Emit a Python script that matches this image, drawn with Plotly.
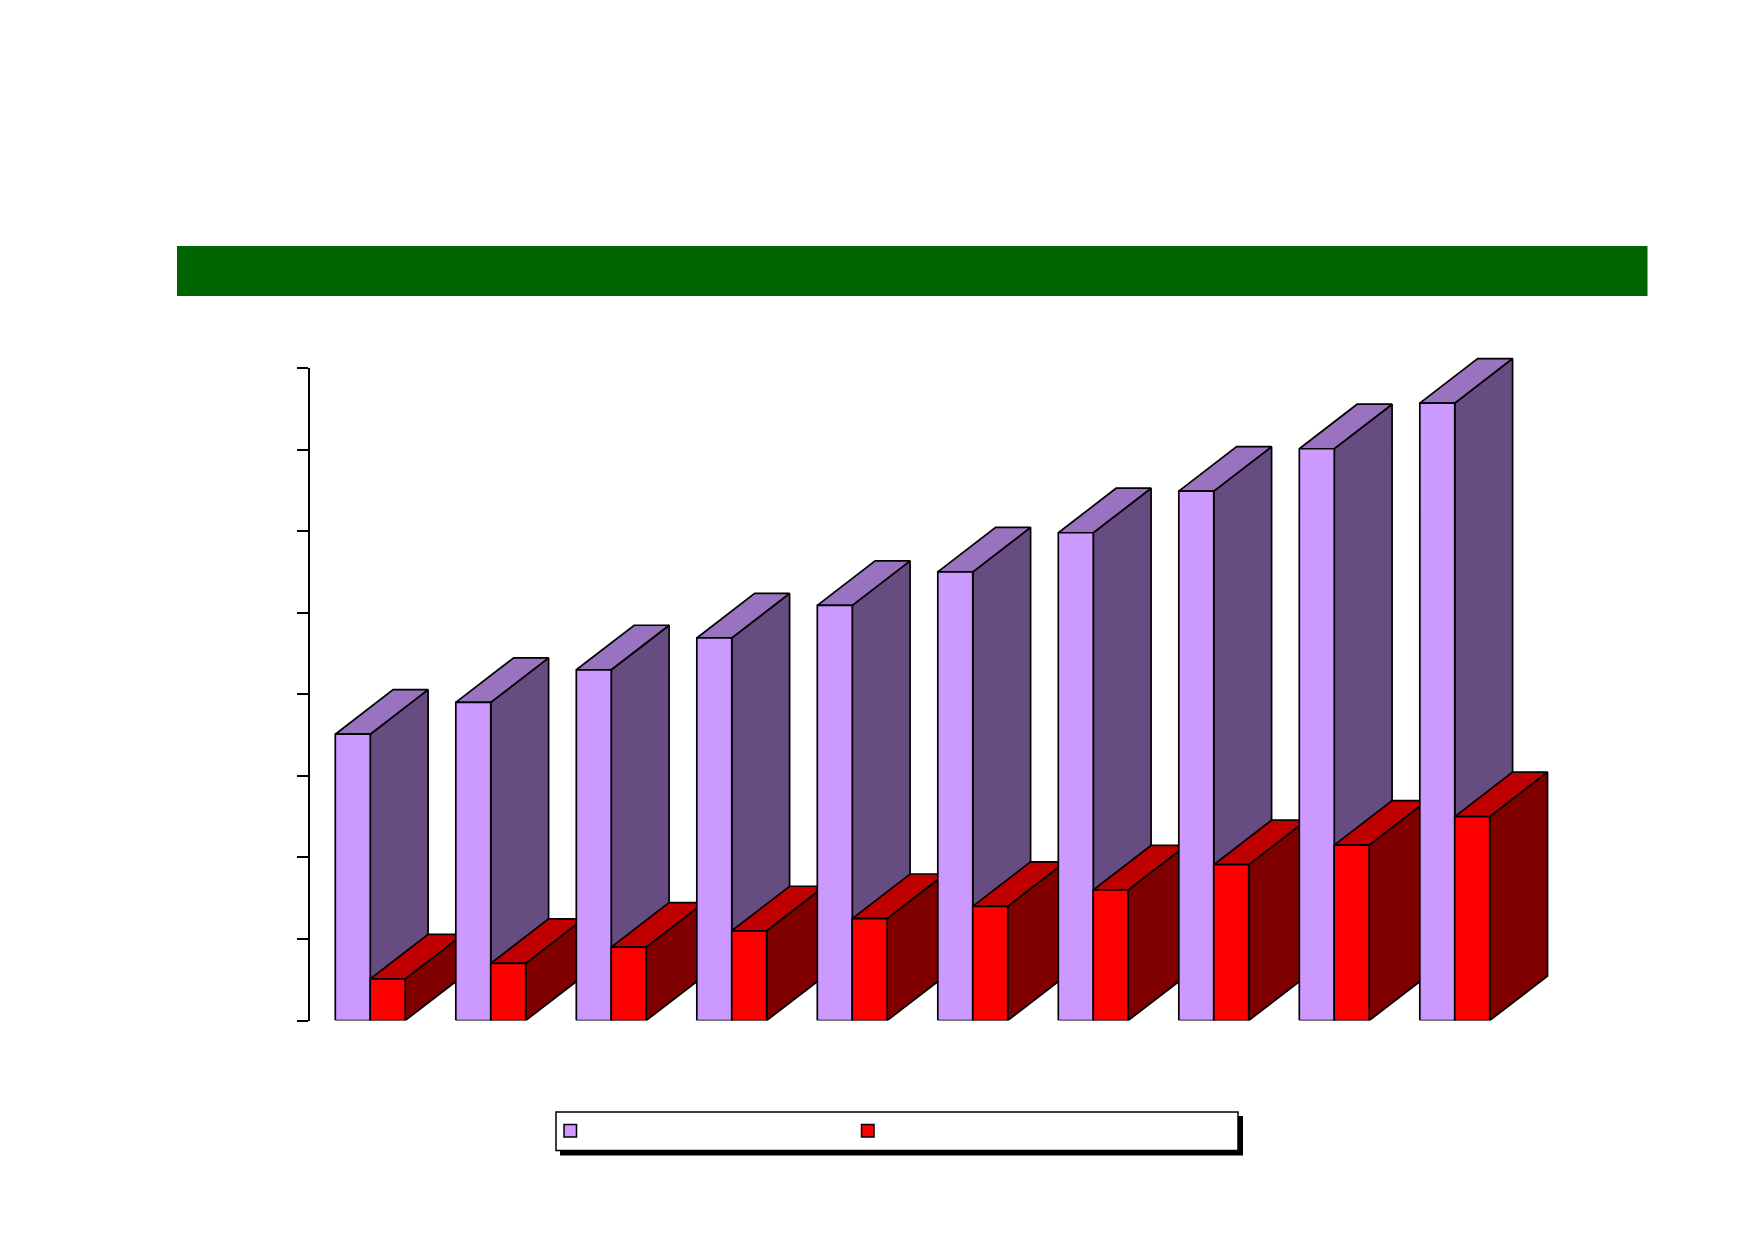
import plotly.graph_objects as go

# page body has an 8px margin, so the figure is shrunk and everything shifted by it
PAGE = 8
W = 1754 - 2 * PAGE
H = 1239 - 2 * PAGE

categories = [0, 1, 2, 3, 4, 5, 6, 7, 8, 9]
purple_vals = [3.51, 3.90, 4.30, 4.69, 5.09, 5.50, 5.98, 6.49, 7.01, 7.57]
red_vals = [0.51, 0.70, 0.90, 1.10, 1.25, 1.40, 1.60, 1.91, 2.15, 2.50]
y_ticks = [0, 1, 2, 3, 4, 5, 6, 7, 8]

purple = {"front": "#CC99FF", "top": "#9973BF", "side": "#664C80"}
red = {"front": "#FF0000", "top": "#BF0000", "side": "#800000"}

bar_w = 0.29
depth_x = 0.48
depth_y = 0.546

# plot area on the page, in pixels
LEFT, RIGHT, TOP, BASE = 310, 1515, 368, 1020.5
# the 3D faces stick out of it, so they get a larger subplot on the same scale
RIGHT_BIG, TOP_BIG = 1600, 330
x_scale = (RIGHT - LEFT) / 10
y_scale = (BASE - TOP) / 8


def fx(px):
    return (px - PAGE) / W


def fy(py):
    return 1 - (py - PAGE) / H


fig = go.Figure()


def add_face(xs, ys, color):
    fig.add_trace(go.Scatter(
        x=xs, y=ys, mode="lines", fill="toself", fillcolor=color,
        line=dict(color="black", width=1.7), cliponaxis=False,
        showlegend=False, hoverinfo="skip"))


def add_box(x0, x1, v, colors):
    add_face([x1, x1 + depth_x, x1 + depth_x, x1, x1],
             [0, depth_y, v + depth_y, v, 0], colors["side"])
    add_face([x0, x0 + depth_x, x1 + depth_x, x1, x0],
             [v, v + depth_y, v + depth_y, v, v], colors["top"])
    add_face([x0, x0, x1, x1, x0], [0, v, v, 0, 0], colors["front"])


for c, p, r in zip(categories, purple_vals, red_vals):
    add_box(c - bar_w, c, p, purple)
    add_box(c, c + bar_w, r, red)

# empty trace, only there so the second subplot with the value axis gets drawn
fig.add_trace(go.Scatter(x=[], y=[], xaxis="x2", yaxis="y2", showlegend=False))


def px_rect(x0, y0, x1, y1, fill, line=None):
    return dict(type="rect", xref="paper", yref="paper",
                x0=fx(x0), x1=fx(x1), y0=fy(y0), y1=fy(y1),
                fillcolor=fill, layer="above",
                line=dict(color=line or fill, width=1.5 if line else 0))


fig.update_layout(
    width=W, height=H,
    margin=dict(l=0, r=0, t=0, b=0, pad=0),
    plot_bgcolor="rgba(0,0,0,0)", paper_bgcolor="white",
    showlegend=False,
    xaxis=dict(domain=[fx(LEFT), fx(RIGHT_BIG)],
               range=[-0.5, -0.5 + (RIGHT_BIG - LEFT) / x_scale],
               visible=False),
    yaxis=dict(domain=[fy(BASE), fy(TOP_BIG)],
               range=[0, (BASE - TOP_BIG) / y_scale],
               visible=False),
    xaxis2=dict(domain=[fx(LEFT), fx(RIGHT)], range=[-0.5, 9.5],
                visible=False, anchor="y2"),
    yaxis2=dict(domain=[fy(BASE), fy(TOP)], range=[0, 8], anchor="x2",
                tickvals=y_ticks, ticks="outside", ticklen=11.5,
                tickwidth=1.5, tickcolor="black", showline=True,
                linecolor="black", linewidth=1.5, showgrid=False,
                zeroline=False, showticklabels=False),
    shapes=[
        px_rect(177, 246, 1647.5, 296, "#006400"),
        px_rect(560, 1116, 1243, 1155.5, "black"),
        px_rect(556, 1112, 1238, 1150.5, "white", "black"),
        px_rect(564, 1124.5, 576.5, 1137, "#CC99FF", "black"),
        px_rect(861.5, 1124.5, 874, 1137, "#FF0000", "black"),
    ],
)

fig.write_html("out.html")
